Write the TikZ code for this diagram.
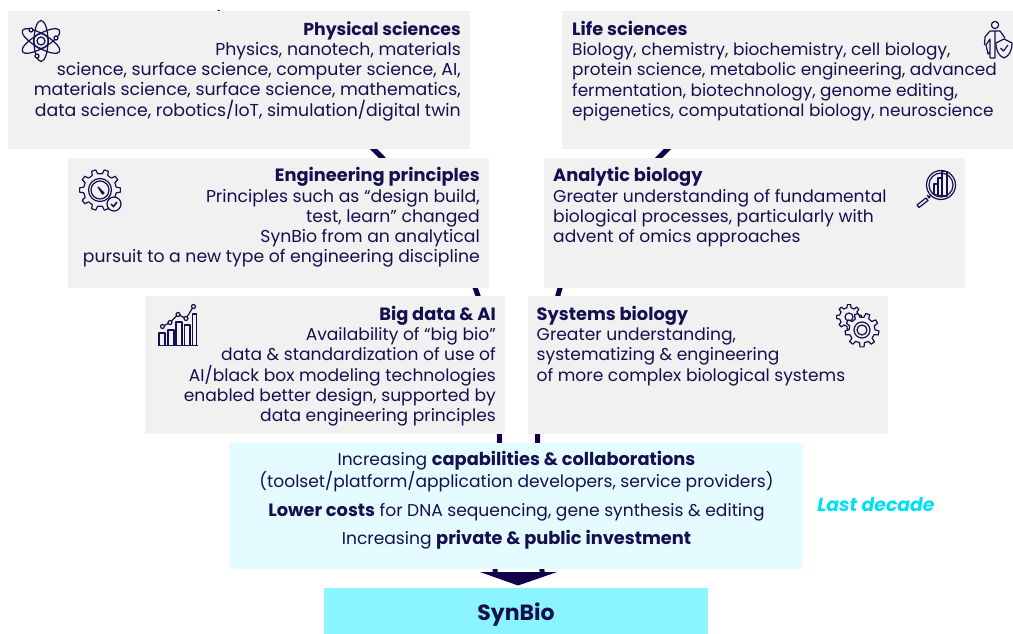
\documentclass[tikz,border=0pt]{standalone}
\usepackage{fontspec}
\setmainfont{Poppins}
\definecolor{ink}{HTML}{14104F}
\definecolor{conn}{HTML}{12004A}
\definecolor{greybox}{HTML}{F1F1F1}
\definecolor{paleblue}{HTML}{E4FBFF}
\definecolor{cyanbox}{HTML}{8BF5FF}
\definecolor{lastcol}{HTML}{00E0F5}
\newcommand{\hd}[1]{{\fontsize{17.8}{20.25}\selectfont\bfseries #1}}
\newcommand{\cogpath}[4]{% r outer, r inner, teeth, phase
  \pgfmathsetmacro{\st}{360/#3}
  \pgfmathsetmacro{\hw}{\st*0.17}
  \pgfmathsetmacro{\hb}{\st*0.27}
  \draw[iconline,fill=greybox] (#4-\hb:#2) \foreach \i in {1,...,#3} {
    -- ({#4+(\i-1)*\st-\hw}:#1) -- ({#4+(\i-1)*\st+\hw}:#1) -- ({#4+(\i-1)*\st+\hb}:#2)
    -- ({#4+\i*\st-\hb}:#2) } -- cycle;}
\tikzset{
  box/.style={fill=#1,draw=none,inner sep=0pt,anchor=north west},
  txt/.style={text=ink,font=\fontsize{17.1}{20.25}\selectfont,inner sep=0pt},
  txtl/.style={txt,align=left,anchor=north west},
  txtr/.style={txt,align=right,anchor=north east},
  txtc/.style={txt,align=center,anchor=center},
  feed/.style={draw=conn,line width=5pt},
  iconline/.style={draw=ink,line width=1.2pt,line join=round},
}
\begin{document}
\begin{tikzpicture}[x=1pt,y=-1pt]
\useasboundingbox (0,0) rectangle (1013,634);
% connector way-points
\coordinate (la) at (217,11.5);
\coordinate (lb) at (378,153.5);
\coordinate (lc) at (476.5,291.5);
\coordinate (ld) at (499.5,438);
\coordinate (le) at (495,572);
\coordinate (ra) at (800,30);
\coordinate (rb) at (663,153.5);
\coordinate (rc) at (559,291.5);
\coordinate (rd) at (537.5,438);
\coordinate (re) at (542,572);
\coordinate (hl) at (480,572);
\coordinate (hr) at (557,572);
\coordinate (ht) at (518,585.5);
\draw[feed] (la) .. controls +(70,60) and +(-50,-50) .. (lb) .. controls +(45,45) and +(-18,-50) .. (lc) .. controls +(16,45) and +(0,-60) .. (ld) .. controls +(0,50) and +(0,-40) .. (le);
\draw[feed] (ra) .. controls +(-60,55) and +(50,-50) .. (rb) .. controls +(-45,45) and +(14,-50) .. (rc) .. controls +(-12,45) and +(0,-60) .. (rd) .. controls +(0,50) and +(0,-40) .. (re);
\fill[conn] (hl) -- (hr) -- (ht) -- cycle;
% boxes
\node[box=greybox,minimum width=462pt,minimum height=138pt] (phys) at (8,11) {};
\node[box=greybox,minimum width=451pt,minimum height=138pt] (life) at (562,11) {};
\node[box=greybox,minimum width=421pt,minimum height=130pt] (eng) at (68,158) {};
\node[box=greybox,minimum width=421pt,minimum height=130pt] (ana) at (544,158) {};
\node[box=greybox,minimum width=360pt,minimum height=138pt] (big) at (145,296) {};
\node[box=greybox,minimum width=360pt,minimum height=138pt] (sys) at (528,296) {};
\node[box=paleblue,minimum width=574pt,minimum height=126pt] (mid) at (229,443) {};
\node[box=cyanbox,minimum width=384pt,minimum height=46pt] (syn) at (324,588) {};
% texts
\node[txtr,font=\fontsize{17.3}{20.25}\selectfont] (tphys) at (461,21) {\textbf{Physical sciences}\\Physics, nanotech, materials\\science, surface science, computer science, AI,\\materials science, surface science, mathematics,\\data science, robotics/IoT, simulation/digital twin};
\node[txtl,font=\fontsize{16.9}{20.25}\selectfont] (tlife) at (572,21) {\hd{Life sciences}\\Biology, chemistry, biochemistry, cell biology,\\protein science, metabolic engineering, advanced\\fermentation, biotechnology, genome editing,\\epigenetics, computational biology, neuroscience};
\node[txtr,font=\fontsize{17.25}{20.25}\selectfont] (teng) at (480,167.5) {\hd{Engineering principles}\\Principles such as “design build,\\test, learn” changed\\SynBio from an analytical\\pursuit to a new type of engineering discipline};
\node[txtl] (tana) at (553,167.5) {\hd{Analytic biology}\\Greater understanding of fundamental\\biological processes, particularly with\\advent of omics approaches};
\node[txtr] (tbig) at (496,306) {\hd{Big data \& AI}\\Availability of “big bio”\\data \& standardization of use of\\AI/black box modeling technologies\\enabled better design, supported by\\data engineering principles};
\node[txtl] (tsys) at (536.5,306) {\hd{Systems biology}\\Greater understanding,\\systematizing \& engineering\\of more complex biological systems};
\node[txtc] (m1) at (516.5,472) {Increasing \hd{capabilities \& collaborations}\\(toolset/platform/application developers, service providers)};
\node[txtc] (m2) at (516.5,512) {\hd{Lower costs} for DNA sequencing, gene synthesis \& editing};
\node[txtc] (m3) at (516.5,540) {Increasing \hd{private \& public investment}};
\node[txtc,font=\fontsize{22}{25}\selectfont\bfseries] (tsyn) at (516,614.5) {SynBio};
\node[txtc,text=lastcol,font=\fontsize{18.8}{22}\selectfont\bfseries\itshape] (last) at (876,505) {Last decade};
% atom icon
\begin{scope}[shift={(41,41)}]
  \draw[iconline] (0,0) ellipse [x radius=7,y radius=20.5];
  \draw[iconline,rotate=60] (0,0) ellipse [x radius=7,y radius=21.5];
  \draw[iconline,rotate=-60] (0,0) ellipse [x radius=7,y radius=21.5];
  \draw[iconline] (0,0) circle (4) (0,0) circle (7.5);
  \draw[iconline,fill=greybox] (-10,-11) circle (2) (15,-3) circle (2) (-4,15) circle (2);
\end{scope}
% engineering icon
\begin{scope}[shift={(100,190)}]
  \cogpath{20.5}{16.5}{10}{0}
  \draw[iconline] (0,0) circle (11.5) (0,0) circle (9);
  \draw[iconline,fill=ink] (-2,-3) -- (4,3) -- (2.5,4) -- cycle;
  \draw[iconline,fill=greybox] (14,14) circle (7);
  \draw[draw=ink,line width=1.6pt] (11,14) -- (13.5,16.5) -- (17,12);
\end{scope}
% person with shield
\begin{scope}[shift={(995,25)}]
  \draw[iconline] (0,0) circle (3.6);
  \draw[iconline] (-5,33) -- (-5,14) (-5,33) -- (0,33) -- (0,16) (-5,14) -- (-9,20) -- (-7,29) -- (-5,27)
    (-5,6) -- (5,6) -- (10,13) (-5,6) -- (-10,12) -- (-10.5,20) (0,6) -- (0,16);
  \draw[iconline,fill=greybox] (9,14) -- (17,18) .. controls (17,26) and (14,31) .. (9,33) .. controls (4,31) and (1,26) .. (1,18) -- cycle;
  \draw[iconline] (5.5,23) -- (8.5,26) -- (13,20);
\end{scope}
% magnifier
\begin{scope}[shift={(941,185)}]
  \draw[iconline] (0,0) circle (14.5) (0,0) circle (12);
  \draw[iconline] (-7,9.5) rectangle (-3,-1) (-3,10.5) rectangle (1,-7) (1,11) rectangle (6,-13.5);
  \draw[iconline] (-10,10) -- (-13,13) (-11,13) -- (-14,10);
  \draw[iconline] (-15,13) -- (-24,20) -- (-22,22.5) -- (-13,15.5) -- cycle;
\end{scope}
% chart icon
\begin{scope}
  \draw[iconline] (159,345) -- (159,333) -- (165,333) -- (165,345)
    (168,345) -- (168,330) -- (174,330) -- (174,345)
    (176,345) -- (176,322) -- (182,322) -- (182,345)
    (184.5,345) -- (184.5,325) -- (190,325) -- (190,345)
    (192.5,345) -- (192.5,314) -- (196.5,314) -- (196.5,345);
  \draw[draw=ink,line width=1.4pt] (158,345.5) -- (198,345.5);
  \draw[iconline] (162.5,326.5) -- (170,322.5) -- (178,314.5) -- (186,318.5) -- (193.5,306.5);
  \foreach \p in {(162.5,326.5),(170,322.5),(178,314.5),(186,318.5),(193.5,306.5)}
    \draw[iconline,fill=greybox] \p circle (2);
\end{scope}
% twin gears
\begin{scope}[shift={(849,317)}]
  \cogpath{12.5}{9.5}{8}{0}
  \draw[iconline] (0,0) circle (4);
\end{scope}
\begin{scope}[shift={(862,330)}]
  \cogpath{17}{13}{9}{10}
  \draw[iconline] (0,0) circle (8) (0,0) circle (5);
\end{scope}
\end{tikzpicture}
\end{document}
